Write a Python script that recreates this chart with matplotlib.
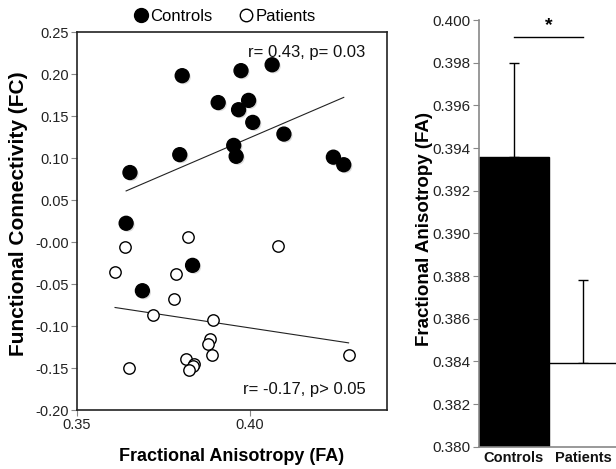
import numpy as np
import matplotlib
matplotlib.use("Agg")
import matplotlib.pyplot as plt
from matplotlib.lines import Line2D
import matplotlib.patheffects as pe

plt.rcParams['font.family'] = ['Liberation Sans', 'DejaVu Sans']
plt.rcParams['axes.unicode_minus'] = False

# Scatter data
controls_fa = [0.3804, 0.3974, 0.4064, 0.3908, 0.3996, 0.3967, 0.4008, 0.4098, 0.3953,
               0.3960, 0.3797, 0.4241, 0.4271, 0.3653, 0.3642, 0.3834, 0.3689]
controls_fc = [0.198, 0.204, 0.211, 0.166, 0.1686, 0.1575, 0.1424, 0.1285, 0.115,
               0.102, 0.104, 0.101, 0.092, 0.0827, 0.0223, -0.0278, -0.058]
patients_fa = [0.3822, 0.3640, 0.4080, 0.3610, 0.3786, 0.3780, 0.3720, 0.3894, 0.3884,
               0.3879, 0.3890, 0.3815, 0.3839, 0.3834, 0.3823, 0.3649, 0.4285]
patients_fc = [0.0063, -0.0056, -0.0048, -0.0358, -0.038, -0.0684, -0.0867, -0.0923, -0.116,
               -0.121, -0.135, -0.139, -0.1456, -0.148, -0.152, -0.1495, -0.135]

# Bar data
groups = ["Controls", "Patients"]
bar_means = [0.3936, 0.3839]
bar_err = [0.0044, 0.0039]

fig = plt.figure(figsize=(6.16, 4.69), dpi=100)

# ---------- Scatter ----------
ax = fig.add_axes([77/616, 1 - 410/469, 310/616, 378/469])
ax.plot(controls_fa, controls_fc, 'o', ms=10, mfc='black', mec='black', zorder=3,
        path_effects=[pe.SimplePatchShadow(offset=(1.2, -1.2), shadow_rgbFace='#999999',
                                           alpha=0.35), pe.Normal()])
ax.plot(patients_fa, patients_fc, 'o', ms=8.2, mfc='white', mec='black', mew=1.0, zorder=3)

for xs, ys in [(controls_fa, controls_fc), (patients_fa, patients_fc)]:
    xs = np.asarray(xs); ys = np.asarray(ys)
    m, b = np.polyfit(xs, ys, 1)
    xx = np.array([xs.min(), xs.max()])
    ax.plot(xx, m * xx + b, color='#222222', lw=0.8, zorder=2)

ax.set_xlim(0.35, 0.4396)
ax.set_ylim(-0.20, 0.25)
ax.set_xticks([0.35, 0.40])
ax.set_xticklabels(["0.35", "0.40"])
yt = np.arange(-0.20, 0.2501, 0.05)
ax.set_yticks(yt)
ax.set_yticklabels([f"{v:.2f}" for v in yt])
ax.tick_params(direction='out', length=4, width=0.8, color='#888888',
               labelsize=10.5, labelcolor='#222222', pad=2)
for s in ax.spines.values():
    s.set_color('#222222')
    s.set_linewidth(1.2)

ax.set_xlabel("Fractional Anisotropy (FA)", fontsize=13, fontweight='bold', labelpad=11)
ax.set_ylabel("Functional Connectivity (FC)", fontsize=15, fontweight='bold')
ax.yaxis.set_label_coords(-0.158, 0.52)

ax.text(0.93, 0.965, "r= 0.43, p= 0.03", transform=ax.transAxes, ha='right', va='top',
        fontsize=12, color='#111111')
ax.text(0.93, 0.035, "r= -0.17, p> 0.05", transform=ax.transAxes, ha='right', va='bottom',
        fontsize=12, color='#111111')

handles = [Line2D([], [], marker='o', ls='none', ms=10, mfc='black', mec='black'),
           Line2D([], [], marker='o', ls='none', ms=9, mfc='white', mec='black', mew=1.0)]
ax.legend(handles, groups, ncol=2, loc='lower center', bbox_to_anchor=(0.475, 0.995),
          frameon=False, fontsize=12, handletextpad=0.1, columnspacing=1.5,
          handlelength=1.0, borderaxespad=0.2)

# ---------- Bars ----------
bx = fig.add_axes([479.3/616, 1 - 446.7/469, 1 - 479.3/616, 426.7/469])
x = np.arange(len(groups))
bx.bar(x, bar_means, width=1.0, color=['black', 'white'], edgecolor='black', lw=1.0,
       zorder=2)
bx.errorbar(x, bar_means, yerr=[[0, 0], bar_err], fmt='none', ecolor='black',
            elinewidth=1.0, capsize=3.5, capthick=1.0, zorder=1)
bx.set_xlim(-0.5, 1.47)
bx.set_ylim(0.380, 0.400)
bt = np.arange(0.380, 0.40001, 0.002)
bx.set_yticks(bt)
bx.set_yticklabels([f"{v:.3f}" for v in bt])
bx.set_xticks(x)
bx.set_xticklabels(groups, fontweight='bold', fontsize=10.5)
bx.tick_params(axis='y', direction='out', length=4, width=0.8, color='#888888',
               labelsize=11, labelcolor='#222222', pad=2)
bx.tick_params(axis='x', length=0, pad=3, labelcolor='#111111')
for k in ['top', 'right']:
    bx.spines[k].set_visible(False)
for k in ['left', 'bottom']:
    bx.spines[k].set_color('#888888')
    bx.spines[k].set_linewidth(1.2)
bx.set_ylabel("Fractional Anisotropy (FA)", fontsize=13.5, fontweight='bold')
bx.yaxis.set_label_coords(-0.34, 0.51)

bx.plot([x[0], x[1]], [0.3992, 0.3992], color='black', lw=1.0, clip_on=False)
bx.text(0.5, 0.39935, "*", ha='center', va='bottom', fontsize=14, fontweight='bold')

fig.savefig("out.png", dpi=100)
